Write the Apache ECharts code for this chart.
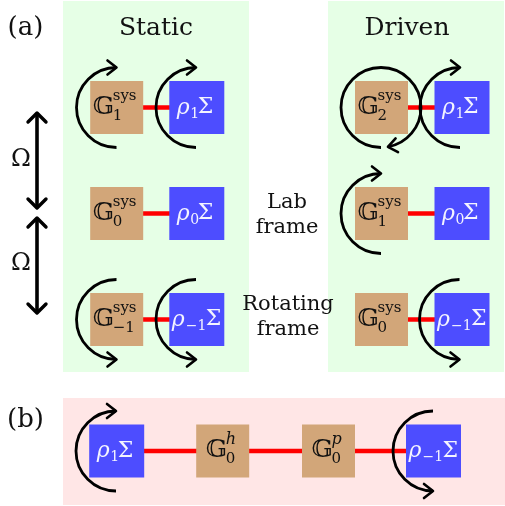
<!DOCTYPE html>
<html><head><meta charset="utf-8">
<script src="https://cdn.jsdelivr.net/npm/echarts@6/dist/echarts.min.js"></script>
<style>html,body{margin:0;padding:0;background:#fff}#c{width:505px;height:506px}</style>
</head><body><div id="c"></div>
<script>
// ---- diagram data (diagram units) ----
// background panels: [x0, y0, x1, y1]
const panelRects = [[63, 1, 249, 372], [328, 1, 504, 372], [63, 398, 505, 505]];
const panelKinds = ['lab', 'lab', 'chain'];
// Green-function nodes: [cx, cy]
const gCenters = [[116.7, 107.5], [116.7, 213.5], [116.7, 319.5],
                  [381.5, 107.5], [381.5, 213.5], [381.5, 319.5],
                  [222.7, 451], [328.5, 451]];
const gSubs = ['1', '0', '\u22121', '2', '1', '0', '0', '0'];
const gSups = ['sys', 'sys', 'sys', 'sys', 'sys', 'sys', 'h', 'p'];
// rho Sigma nodes: [cx, cy]
const rhoCenters = [[196.8, 107.5], [196.8, 213.5], [196.8, 319.5],
                    [462, 107.5], [462, 213.5], [462, 319.5],
                    [116.7, 451], [433.5, 451]];
const rhoSubs = ['1', '0', '\u22121', '1', '0', '\u22121', '1', '\u22121'];
// red links: [x1, y1, x2, y2]
const links = [[116.7, 107.5, 196.8, 107.5], [116.7, 213.5, 196.8, 213.5], [116.7, 319.5, 196.8, 319.5],
               [381.5, 107.5, 462, 107.5], [381.5, 213.5, 462, 213.5], [381.5, 319.5, 462, 319.5],
               [116.7, 451, 433.5, 451]];
// curved arrows: [cx, cy, r, startDeg, endDeg] (arrow head at end)
const arcs = [[116.5, 107.5, 40, 90, 270], [196, 107.5, 40, 90, 270],
              [116.5, 319.5, 40, 270, 90], [196, 319.5, 40, 270, 90],
              [381, 107.5, 40, 90, 440], [460, 107.5, 40, 90, 270],
              [381, 213.5, 40, 90, 270], [459.5, 319.5, 40, 270, 90],
              [116, 451, 40, 90, 270], [433, 451, 40, 270, 90]];
// vertical double arrows (Omega): [x, y1, y2]
const omegaArrows = [[37, 113, 208], [37, 218, 313]];
// text labels
const labelTexts = ['(a)', 'Static', 'Driven', 'Lab', 'frame', 'Rotating', 'frame', '\u03A9', '\u03A9', '(b)'];
const labelPos = [[25.5, 28.5], [156, 28.3], [407, 28.3], [287, 202.6], [287, 227.6],
                  [288, 304.6], [288, 329.6], [21, 159.6], [21, 263.6], [25.5, 420]];
const labelKinds = ['tag', 'title', 'title', 'note', 'note', 'note', 'note', 'omega', 'omega', 'tag'];

// ---- styles ----
const SERIF = '"DejaVu Serif", "Liberation Serif", serif';
const PANEL_FILL = { lab: '#E6FFE6', chain: '#FFE6E6' };
const TAN = '#D2A679';
const BLUE = '#4D4DFF';
const LABEL_SIZE = { tag: 26, title: 25, note: 21, omega: 24 };
const G_SIZE = [53, 53], RHO_SIZE = [55, 53];

function chevron(p, d, L, W) {
  const n = [-d[1], d[0]];
  return [[p[0] - L * d[0] + W * n[0], p[1] - L * d[1] + W * n[1]], p,
          [p[0] - L * d[0] - W * n[0], p[1] - L * d[1] - W * n[1]]];
}

const chart = echarts.init(document.getElementById('c'), null, { renderer: 'canvas' });
chart.setOption({
  animation: false,
  backgroundColor: '#fff',
  grid: { left: 0, right: 0, top: 0, bottom: 0 },
  xAxis: { type: 'value', min: 0, max: 505, show: false },
  yAxis: { type: 'value', min: 0, max: 506, inverse: true, show: false },
  series: [
    { type: 'custom', z: 1, clip: false, data: panelRects.map(r => [r[0], r[1]]),
      renderItem: (params, api) => {
        const r = panelRects[params.dataIndex];
        const a = api.coord([r[0], r[1]]), b = api.coord([r[2], r[3]]);
        return { type: 'rect', shape: { x: a[0], y: a[1], width: b[0] - a[0], height: b[1] - a[1] },
                 style: { fill: PANEL_FILL[panelKinds[params.dataIndex]] } };
      } },
    { type: 'custom', z: 2, clip: false, data: links.map(l => [l[0], l[1]]),
      renderItem: (params, api) => {
        const l = links[params.dataIndex];
        const a = api.coord([l[0], l[1]]), b = api.coord([l[2], l[3]]);
        return { type: 'line', shape: { x1: a[0], y1: a[1], x2: b[0], y2: b[1] },
                 style: { stroke: '#FF0000', lineWidth: 4.5 } };
      } },
    { type: 'custom', z: 3, clip: false, data: gCenters,
      renderItem: (params, api) => {
        const i = params.dataIndex, d = gCenters[i];
        const c = api.coord(d), s = api.size(G_SIZE);
        const sys = gSups[i] === 'sys';
        const gx = sys ? c[0] - 24 : c[0] - 17;
        const ix = sys ? c[0] - 4 : c[0] + 3;
        const tx = (t, x, y, size, it) => ({ type: 'text', x: x, y: y,
          style: { text: t, fill: '#111', fontSize: size, fontFamily: SERIF, fontStyle: it ? 'italic' : 'normal', align: 'left', verticalAlign: 'middle' } });
        return { type: 'group', children: [
          { type: 'rect', shape: { x: c[0] - s[0] / 2, y: c[1] - s[1] / 2, width: s[0], height: s[1] }, style: { fill: TAN } },
          tx('\uD835\uDD3E', gx, c[1] - 0.5, 25, false),
          tx(gSups[i], ix, c[1] - 11, sys ? 15 : 16, !sys),
          tx(gSubs[i], ix, c[1] + 8.5, 15, false)
        ] };
      } },
    { type: 'custom', z: 3, clip: false, data: rhoCenters,
      renderItem: (params, api) => {
        const i = params.dataIndex, d = rhoCenters[i];
        const c = api.coord(d), s = api.size(RHO_SIZE);
        const neg = rhoSubs[i].length > 1;
        const rx = neg ? c[0] - 25 : c[0] - 20;
        const sx = neg ? c[0] - 11 : c[0] - 6.5;
        const Sx = neg ? c[0] + 9 : c[0] + 1;
        const tx = (t, x, y, size, it) => ({ type: 'text', x: x, y: y,
          style: { text: t, fill: '#F4F4FF', fontSize: size, fontFamily: SERIF, fontStyle: it ? 'italic' : 'normal', align: 'left', verticalAlign: 'middle' } });
        return { type: 'group', children: [
          { type: 'rect', shape: { x: c[0] - s[0] / 2, y: c[1] - s[1] / 2, width: s[0], height: s[1] }, style: { fill: BLUE } },
          tx('\u03C1', rx, c[1] + 0.5, 22, true),
          tx(rhoSubs[i], sx, c[1] + 6.5, 14, false),
          tx('\u03A3', Sx, c[1] + 0, 22, false)
        ] };
      } },
    { type: 'custom', z: 4, clip: false, data: arcs.map(a => [a[0], a[1]]),
      renderItem: (params, api) => {
        const a = arcs[params.dataIndex];
        const c = api.coord([a[0], a[1]]);
        const r = api.size([a[2], a[2]])[0];
        const s = a[3] * Math.PI / 180, e = a[4] * Math.PI / 180;
        const cw = e > s;
        const p = [c[0] + r * Math.cos(e), c[1] + r * Math.sin(e)];
        const dir = cw ? [-Math.sin(e), Math.cos(e)] : [Math.sin(e), -Math.cos(e)];
        return { type: 'group', children: [
          { type: 'arc', shape: { cx: c[0], cy: c[1], r: r, startAngle: s, endAngle: e, clockwise: cw },
            style: { stroke: '#000', fill: 'none', lineWidth: 2.8 } },
          { type: 'polyline', shape: { points: chevron(p, dir, 9, 7) },
            style: { stroke: '#000', fill: 'none', lineWidth: 2.6, lineJoin: 'round', lineCap: 'round' } }
        ] };
      } },
    { type: 'custom', z: 4, clip: false, data: omegaArrows.map(o => [o[0], o[1]]),
      renderItem: (params, api) => {
        const o = omegaArrows[params.dataIndex];
        const a = api.coord([o[0], o[1]]), b = api.coord([o[0], o[2]]);
        return { type: 'group', children: [
          { type: 'line', shape: { x1: a[0], y1: a[1] + 1, x2: b[0], y2: b[1] - 1 }, style: { stroke: '#000', lineWidth: 3.6 } },
          { type: 'polyline', shape: { points: chevron(a, [0, -1], 9, 9) }, style: { stroke: '#000', fill: 'none', lineWidth: 3.4, lineJoin: 'round', lineCap: 'round' } },
          { type: 'polyline', shape: { points: chevron(b, [0, 1], 9, 9) }, style: { stroke: '#000', fill: 'none', lineWidth: 3.4, lineJoin: 'round', lineCap: 'round' } }
        ] };
      } },
    { type: 'custom', z: 5, clip: false, data: labelPos,
      renderItem: (params, api) => {
        const i = params.dataIndex;
        const c = api.coord(labelPos[i]);
        return { type: 'text', x: c[0], y: c[1],
          style: { text: labelTexts[i], fill: '#111', fontSize: LABEL_SIZE[labelKinds[i]], fontFamily: SERIF, align: 'center', verticalAlign: 'middle' } };
      } }
  ]
});
</script></body></html>
